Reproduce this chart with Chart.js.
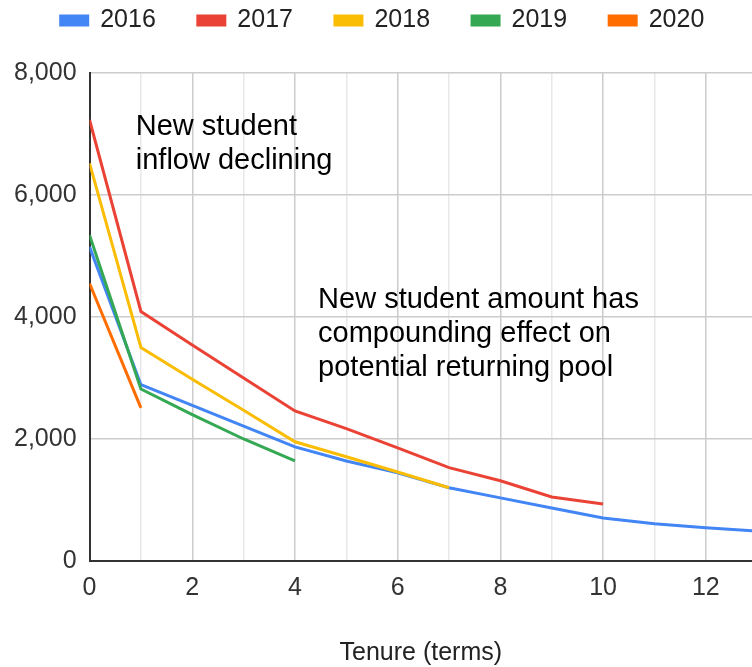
<!DOCTYPE html>
<html>
<head>
<meta charset="utf-8">
<script src="https://cdn.jsdelivr.net/npm/chart.js@4/dist/chart.umd.min.js"></script>
<style>
  html, body { margin: 0; padding: 0; background: #fff; overflow: hidden; }
  #wrap { width: 752px; height: 667px; position: relative; }
</style>
</head>
<body>
<div id="wrap"><canvas id="chart"></canvas></div>
<script>
// Données
const years = ["2016", "2017", "2018", "2019", "2020"];
const tenure = [0, 1, 2, 3, 4, 5, 6, 7, 8, 9, 10, 11, 12, 13];
const s2016 = [5150, 2890, 2550, 2210, 1870, 1640, 1445, 1200, 1035, 870, 706, 610, 545, 490];
const s2017 = [7230, 4090, 3540, 3000, 2460, 2170, 1855, 1530, 1315, 1050, 935];
const s2018 = [6520, 3500, 2980, 2470, 1955, 1710, 1460, 1200];
const s2019 = [5340, 2820, 2400, 2000, 1640];
const s2020 = [4550, 2510];
const yTicks = [0, 2000, 4000, 6000, 8000];
const xTitle = "Tenure (terms)";

const series = [s2016, s2017, s2018, s2019, s2020];
const colors = ["#4285F4", "#EA4335", "#FBBC04", "#34A853", "#FF6D01"];

// Textes d'annotation (position en coordonnées de données)
const notes = [
    { lines: ["New student", "inflow declining"], at: [0.9, 6980] },
    { lines: ["New student amount has", "compounding effect on", "potential returning pool"], at: [4.45, 4140] }
];

Chart.defaults.font.family = '"Liberation Sans", Arial, sans-serif';
Chart.defaults.color = "#333";

// Plugin pour écrire les annotations
const notesPlugin = {
    id: "notes",
    afterDatasetsDraw(chart) {
        const ctx = chart.ctx;
        const xs = chart.scales.x;
        const ys = chart.scales.y;
        ctx.save();
        ctx.font = '29px "Liberation Sans", Arial, sans-serif';
        ctx.fillStyle = "#000";
        ctx.textAlign = "left";
        ctx.textBaseline = "alphabetic";
        notes.forEach(note => {
            const px = xs.getPixelForValue(note.at[0]);
            const py = ys.getPixelForValue(note.at[1]);
            note.lines.forEach((line, i) => ctx.fillText(line, px, py + i * 34));
        });
        ctx.restore();
    }
};

// Espace sous la légende, et légende un peu décalée à droite
const legendSpace = {
    id: "legendSpace",
    afterInit(chart) {
        const legend = chart.legend;
        const fit = legend.fit;
        legend.fit = function () {
            fit.call(this);
            this.height += 30;
            if (this.lineWidths && this.lineWidths.length) {
                this.lineWidths[0] -= 12;
            }
        };
    }
};

const datasets = series.map((values, i) => ({
    label: years[i],
    data: values.map((v, j) => ({ x: tenure[j], y: v })),
    borderColor: colors[i],
    backgroundColor: colors[i],
    borderWidth: 3,
    pointRadius: 0,
    tension: 0,
    order: series.length - i
}));

new Chart(document.getElementById("chart"), {
    type: "line",
    data: { datasets: datasets },
    plugins: [notesPlugin, legendSpace],
    options: {
        responsive: true,
        maintainAspectRatio: false,
        animation: false,
        layout: { padding: { top: -34, left: 1, right: 0, bottom: -1 } },
        plugins: {
            tooltip: { enabled: false },
            legend: {
                position: "top",
                labels: {
                    boxWidth: 27,
                    boxHeight: 9,
                    padding: 42,
                    color: "#222",
                    font: { size: 25, lineHeight: 1 },
                    sort: (a, b) => a.datasetIndex - b.datasetIndex
                }
            }
        },
        scales: {
            x: {
                type: "linear",
                min: 0,
                max: 12.9,
                border: { color: "#333", width: 2 },
                grid: {
                    drawTicks: false,
                    color: c => (c.tick && c.tick.value % 2 !== 0) ? "#e8e8e8" : "#cccccc",
                    lineWidth: 1.5
                },
                ticks: {
                    stepSize: 1,
                    includeBounds: false,
                    autoSkip: false,
                    maxRotation: 0,
                    padding: 12,
                    color: "#333",
                    font: { size: 25 },
                    callback: v => (v % 2 === 0 ? String(v) : "")
                },
                title: {
                    display: true,
                    text: xTitle,
                    color: "#222",
                    font: { size: 25 },
                    padding: { top: 23, bottom: 0 }
                }
            },
            y: {
                min: yTicks[0],
                max: yTicks[yTicks.length - 1],
                border: { color: "#333", width: 2 },
                grid: { drawTicks: false, color: "#cccccc", lineWidth: 1.5 },
                afterBuildTicks: axis => { axis.ticks = yTicks.map(v => ({ value: v })); },
                ticks: {
                    padding: 13,
                    color: "#333",
                    font: { size: 25 },
                    callback: v => v.toLocaleString("en-US")
                }
            }
        }
    }
});
</script>
</body>
</html>
